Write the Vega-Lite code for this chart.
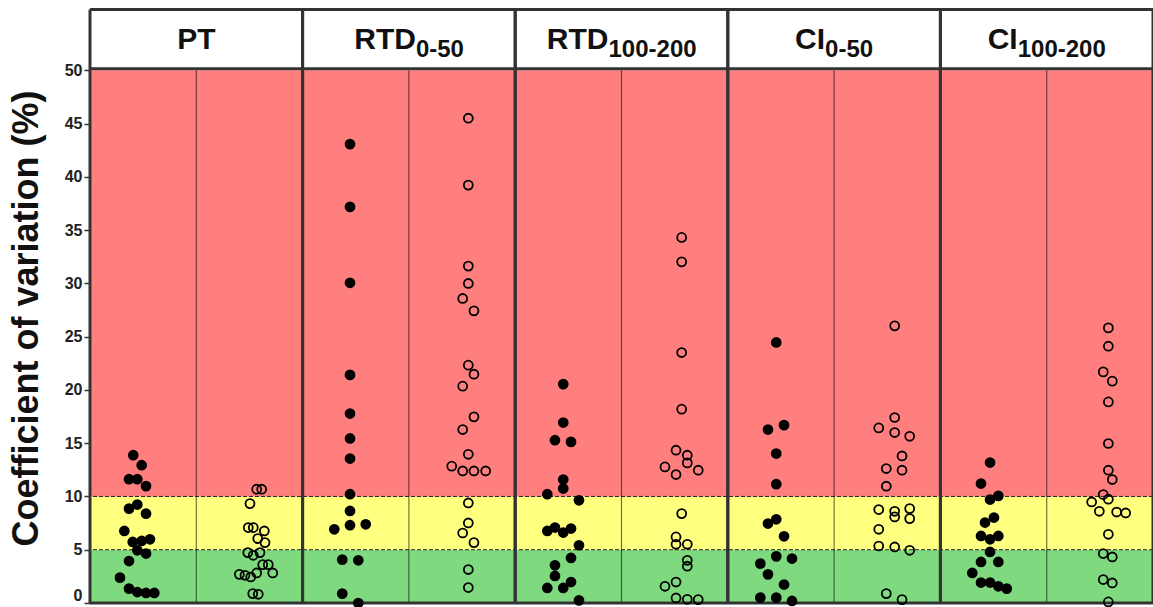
{
  "$schema": "https://vega.github.io/schema/vega-lite/v6.json",
  "usermeta": {"embedOptions": {"actions": false}},
  "width": 1063,
  "height": 594,
  "autosize": {"type": "none"},
  "padding": {"left": 90, "top": 9, "right": 0, "bottom": 4},
  "background": "white",
  "config": {"view": {"stroke": null}, "font": "Liberation Sans"},
  "datasets": {
    "bands": [
      {"zone": "low", "lo": 0, "hi": 5},
      {"zone": "mid", "lo": 5, "hi": 10},
      {"zone": "high", "lo": 10, "hi": 50}
    ],
    "thresholds": [{"v": 5}, {"v": 10}],
    "borders": [{"v": 0}, {"v": 50.15}, {"v": 55.7}],
    "panels": [
      {"p": "PT", "main": "PT", "sub": ""},
      {"p": "RTD0-50", "main": "RTD", "sub": "0-50"},
      {"p": "RTD100-200", "main": "RTD", "sub": "100-200"},
      {"p": "CI0-50", "main": "CI", "sub": "0-50"},
      {"p": "CI100-200", "main": "CI", "sub": "100-200"}
    ],
    "pts": [
      {"g": "PT-1", "t": "filled", "cv": 13.87, "j": -0.093},
      {"g": "PT-1", "t": "filled", "cv": 12.93, "j": -0.014},
      {"g": "PT-1", "t": "filled", "cv": 11.62, "j": -0.133},
      {"g": "PT-1", "t": "filled", "cv": 11.62, "j": -0.055},
      {"g": "PT-1", "t": "filled", "cv": 10.97, "j": 0.027},
      {"g": "PT-1", "t": "filled", "cv": 9.24, "j": -0.055},
      {"g": "PT-1", "t": "filled", "cv": 8.86, "j": -0.133},
      {"g": "PT-1", "t": "filled", "cv": 8.39, "j": 0.027},
      {"g": "PT-1", "t": "filled", "cv": 6.76, "j": -0.177},
      {"g": "PT-1", "t": "filled", "cv": 5.73, "j": -0.098},
      {"g": "PT-1", "t": "filled", "cv": 5.82, "j": -0.014},
      {"g": "PT-1", "t": "filled", "cv": 5.98, "j": 0.064},
      {"g": "PT-1", "t": "filled", "cv": 4.95, "j": -0.055},
      {"g": "PT-1", "t": "filled", "cv": 4.64, "j": 0.027},
      {"g": "PT-1", "t": "filled", "cv": 3.94, "j": -0.133},
      {"g": "PT-1", "t": "filled", "cv": 2.38, "j": -0.218},
      {"g": "PT-1", "t": "filled", "cv": 1.35, "j": -0.133},
      {"g": "PT-1", "t": "filled", "cv": 1.03, "j": -0.055},
      {"g": "PT-1", "t": "filled", "cv": 0.94, "j": 0.027},
      {"g": "PT-1", "t": "filled", "cv": 0.94, "j": 0.105},
      {"g": "PT-2", "t": "open", "cv": 10.68, "j": 0.068},
      {"g": "PT-2", "t": "open", "cv": 10.68, "j": 0.115},
      {"g": "PT-2", "t": "open", "cv": 9.33, "j": 0.005},
      {"g": "PT-2", "t": "open", "cv": 7.08, "j": -0.011},
      {"g": "PT-2", "t": "open", "cv": 7.08, "j": 0.036},
      {"g": "PT-2", "t": "open", "cv": 6.76, "j": 0.14},
      {"g": "PT-2", "t": "open", "cv": 6.05, "j": 0.078},
      {"g": "PT-2", "t": "open", "cv": 5.67, "j": 0.146},
      {"g": "PT-2", "t": "open", "cv": 4.73, "j": -0.016},
      {"g": "PT-2", "t": "open", "cv": 4.48, "j": 0.036},
      {"g": "PT-2", "t": "open", "cv": 4.73, "j": 0.099},
      {"g": "PT-2", "t": "open", "cv": 3.6, "j": 0.125},
      {"g": "PT-2", "t": "open", "cv": 3.6, "j": 0.177},
      {"g": "PT-2", "t": "open", "cv": 2.82, "j": 0.219},
      {"g": "PT-2", "t": "open", "cv": 2.69, "j": -0.095},
      {"g": "PT-2", "t": "open", "cv": 2.6, "j": -0.042},
      {"g": "PT-2", "t": "open", "cv": 2.44, "j": 0.012},
      {"g": "PT-2", "t": "open", "cv": 2.82, "j": 0.068},
      {"g": "PT-2", "t": "open", "cv": 0.88, "j": 0.031},
      {"g": "PT-2", "t": "open", "cv": 0.82, "j": 0.083},
      {"g": "RTD0-50-1", "t": "filled", "cv": 43.07, "j": -0.054},
      {"g": "RTD0-50-1", "t": "filled", "cv": 37.18, "j": -0.054},
      {"g": "RTD0-50-1", "t": "filled", "cv": 30.05, "j": -0.054},
      {"g": "RTD0-50-1", "t": "filled", "cv": 21.41, "j": -0.054},
      {"g": "RTD0-50-1", "t": "filled", "cv": 17.78, "j": -0.054},
      {"g": "RTD0-50-1", "t": "filled", "cv": 15.44, "j": -0.054},
      {"g": "RTD0-50-1", "t": "filled", "cv": 13.56, "j": -0.054},
      {"g": "RTD0-50-1", "t": "filled", "cv": 10.21, "j": -0.054},
      {"g": "RTD0-50-1", "t": "filled", "cv": 8.64, "j": -0.054},
      {"g": "RTD0-50-1", "t": "filled", "cv": 6.92, "j": -0.202},
      {"g": "RTD0-50-1", "t": "filled", "cv": 7.3, "j": -0.054},
      {"g": "RTD0-50-1", "t": "filled", "cv": 7.39, "j": 0.094},
      {"g": "RTD0-50-1", "t": "filled", "cv": 4.07, "j": -0.127},
      {"g": "RTD0-50-1", "t": "filled", "cv": 4.01, "j": 0.024},
      {"g": "RTD0-50-1", "t": "filled", "cv": 0.88, "j": -0.127},
      {"g": "RTD0-50-1", "t": "filled", "cv": 0.0, "j": 0.024},
      {"g": "RTD0-50-2", "t": "open", "cv": 45.5, "j": 0.059},
      {"g": "RTD0-50-2", "t": "open", "cv": 39.22, "j": 0.059},
      {"g": "RTD0-50-2", "t": "open", "cv": 31.62, "j": 0.059},
      {"g": "RTD0-50-2", "t": "open", "cv": 29.99, "j": 0.059},
      {"g": "RTD0-50-2", "t": "open", "cv": 28.58, "j": 0.006},
      {"g": "RTD0-50-2", "t": "open", "cv": 27.42, "j": 0.112},
      {"g": "RTD0-50-2", "t": "open", "cv": 22.32, "j": 0.059},
      {"g": "RTD0-50-2", "t": "open", "cv": 21.47, "j": 0.112},
      {"g": "RTD0-50-2", "t": "open", "cv": 20.35, "j": 0.006},
      {"g": "RTD0-50-2", "t": "open", "cv": 17.47, "j": 0.112},
      {"g": "RTD0-50-2", "t": "open", "cv": 16.28, "j": 0.006},
      {"g": "RTD0-50-2", "t": "open", "cv": 13.96, "j": 0.059},
      {"g": "RTD0-50-2", "t": "open", "cv": 12.84, "j": -0.097},
      {"g": "RTD0-50-2", "t": "open", "cv": 12.39, "j": 0.006},
      {"g": "RTD0-50-2", "t": "open", "cv": 12.39, "j": 0.112},
      {"g": "RTD0-50-2", "t": "open", "cv": 12.39, "j": 0.222},
      {"g": "RTD0-50-2", "t": "open", "cv": 9.39, "j": 0.059},
      {"g": "RTD0-50-2", "t": "open", "cv": 7.51, "j": 0.059},
      {"g": "RTD0-50-2", "t": "open", "cv": 6.57, "j": 0.006},
      {"g": "RTD0-50-2", "t": "open", "cv": 5.67, "j": 0.112},
      {"g": "RTD0-50-2", "t": "open", "cv": 3.14, "j": 0.059},
      {"g": "RTD0-50-2", "t": "open", "cv": 1.45, "j": 0.059},
      {"g": "RTD100-200-1", "t": "filled", "cv": 20.54, "j": -0.048},
      {"g": "RTD100-200-1", "t": "filled", "cv": 16.94, "j": -0.048},
      {"g": "RTD100-200-1", "t": "filled", "cv": 15.28, "j": -0.126},
      {"g": "RTD100-200-1", "t": "filled", "cv": 15.12, "j": 0.025},
      {"g": "RTD100-200-1", "t": "filled", "cv": 11.59, "j": -0.048},
      {"g": "RTD100-200-1", "t": "filled", "cv": 10.74, "j": -0.048},
      {"g": "RTD100-200-1", "t": "filled", "cv": 10.21, "j": -0.198},
      {"g": "RTD100-200-1", "t": "filled", "cv": 9.64, "j": 0.1},
      {"g": "RTD100-200-1", "t": "filled", "cv": 6.76, "j": -0.198},
      {"g": "RTD100-200-1", "t": "filled", "cv": 7.08, "j": -0.126},
      {"g": "RTD100-200-1", "t": "filled", "cv": 6.61, "j": -0.048},
      {"g": "RTD100-200-1", "t": "filled", "cv": 6.99, "j": 0.025},
      {"g": "RTD100-200-1", "t": "filled", "cv": 5.42, "j": 0.1},
      {"g": "RTD100-200-1", "t": "filled", "cv": 4.23, "j": 0.025},
      {"g": "RTD100-200-1", "t": "filled", "cv": 3.54, "j": -0.126},
      {"g": "RTD100-200-1", "t": "filled", "cv": 2.54, "j": -0.126},
      {"g": "RTD100-200-1", "t": "filled", "cv": 1.41, "j": -0.198},
      {"g": "RTD100-200-1", "t": "filled", "cv": 1.41, "j": -0.048},
      {"g": "RTD100-200-1", "t": "filled", "cv": 1.97, "j": 0.025},
      {"g": "RTD100-200-1", "t": "filled", "cv": 0.25, "j": 0.1},
      {"g": "RTD100-200-2", "t": "open", "cv": 34.31, "j": 0.066},
      {"g": "RTD100-200-2", "t": "open", "cv": 32.02, "j": 0.066},
      {"g": "RTD100-200-2", "t": "open", "cv": 23.51, "j": 0.066},
      {"g": "RTD100-200-2", "t": "open", "cv": 18.19, "j": 0.066},
      {"g": "RTD100-200-2", "t": "open", "cv": 14.34, "j": 0.013},
      {"g": "RTD100-200-2", "t": "open", "cv": 13.87, "j": 0.119},
      {"g": "RTD100-200-2", "t": "open", "cv": 13.15, "j": 0.119},
      {"g": "RTD100-200-2", "t": "open", "cv": 12.77, "j": -0.091},
      {"g": "RTD100-200-2", "t": "open", "cv": 12.46, "j": 0.222},
      {"g": "RTD100-200-2", "t": "open", "cv": 12.06, "j": 0.013},
      {"g": "RTD100-200-2", "t": "open", "cv": 8.39, "j": 0.066},
      {"g": "RTD100-200-2", "t": "open", "cv": 6.2, "j": 0.013},
      {"g": "RTD100-200-2", "t": "open", "cv": 5.51, "j": 0.013},
      {"g": "RTD100-200-2", "t": "open", "cv": 5.51, "j": 0.119},
      {"g": "RTD100-200-2", "t": "open", "cv": 4.01, "j": 0.119},
      {"g": "RTD100-200-2", "t": "open", "cv": 3.45, "j": 0.119},
      {"g": "RTD100-200-2", "t": "open", "cv": 1.57, "j": -0.091},
      {"g": "RTD100-200-2", "t": "open", "cv": 1.97, "j": 0.013},
      {"g": "RTD100-200-2", "t": "open", "cv": 0.47, "j": 0.013},
      {"g": "RTD100-200-2", "t": "open", "cv": 0.35, "j": 0.119},
      {"g": "RTD100-200-2", "t": "open", "cv": 0.32, "j": 0.222},
      {"g": "CI0-50-1", "t": "filled", "cv": 24.45, "j": -0.044},
      {"g": "CI0-50-1", "t": "filled", "cv": 16.28, "j": -0.122},
      {"g": "CI0-50-1", "t": "filled", "cv": 16.69, "j": 0.029},
      {"g": "CI0-50-1", "t": "filled", "cv": 14.03, "j": -0.044},
      {"g": "CI0-50-1", "t": "filled", "cv": 11.15, "j": -0.044},
      {"g": "CI0-50-1", "t": "filled", "cv": 7.46, "j": -0.122},
      {"g": "CI0-50-1", "t": "filled", "cv": 7.86, "j": -0.044},
      {"g": "CI0-50-1", "t": "filled", "cv": 6.26, "j": 0.029},
      {"g": "CI0-50-1", "t": "filled", "cv": 3.7, "j": -0.194},
      {"g": "CI0-50-1", "t": "filled", "cv": 4.38, "j": -0.044},
      {"g": "CI0-50-1", "t": "filled", "cv": 4.17, "j": 0.104},
      {"g": "CI0-50-1", "t": "filled", "cv": 2.69, "j": -0.122},
      {"g": "CI0-50-1", "t": "filled", "cv": 1.73, "j": 0.029},
      {"g": "CI0-50-1", "t": "filled", "cv": 0.5, "j": -0.194},
      {"g": "CI0-50-1", "t": "filled", "cv": 0.5, "j": -0.044},
      {"g": "CI0-50-1", "t": "filled", "cv": 0.19, "j": 0.104},
      {"g": "CI0-50-2", "t": "open", "cv": 26.01, "j": 0.07},
      {"g": "CI0-50-2", "t": "open", "cv": 17.41, "j": 0.07},
      {"g": "CI0-50-2", "t": "open", "cv": 16.43, "j": -0.08},
      {"g": "CI0-50-2", "t": "open", "cv": 16.0, "j": 0.07},
      {"g": "CI0-50-2", "t": "open", "cv": 15.65, "j": 0.211},
      {"g": "CI0-50-2", "t": "open", "cv": 13.8, "j": 0.139},
      {"g": "CI0-50-2", "t": "open", "cv": 12.62, "j": -0.009},
      {"g": "CI0-50-2", "t": "open", "cv": 12.46, "j": 0.139},
      {"g": "CI0-50-2", "t": "open", "cv": 10.96, "j": -0.009},
      {"g": "CI0-50-2", "t": "open", "cv": 8.77, "j": -0.08},
      {"g": "CI0-50-2", "t": "open", "cv": 8.61, "j": 0.07},
      {"g": "CI0-50-2", "t": "open", "cv": 8.86, "j": 0.211},
      {"g": "CI0-50-2", "t": "open", "cv": 8.08, "j": 0.07},
      {"g": "CI0-50-2", "t": "open", "cv": 7.92, "j": 0.211},
      {"g": "CI0-50-2", "t": "open", "cv": 6.92, "j": -0.08},
      {"g": "CI0-50-2", "t": "open", "cv": 5.35, "j": -0.08},
      {"g": "CI0-50-2", "t": "open", "cv": 5.26, "j": 0.07},
      {"g": "CI0-50-2", "t": "open", "cv": 4.95, "j": 0.211},
      {"g": "CI0-50-2", "t": "open", "cv": 0.88, "j": -0.009},
      {"g": "CI0-50-2", "t": "open", "cv": 0.32, "j": 0.139},
      {"g": "CI100-200-1", "t": "filled", "cv": 13.18, "j": -0.033},
      {"g": "CI100-200-1", "t": "filled", "cv": 11.21, "j": -0.118},
      {"g": "CI100-200-1", "t": "filled", "cv": 9.71, "j": -0.033},
      {"g": "CI100-200-1", "t": "filled", "cv": 10.05, "j": 0.045},
      {"g": "CI100-200-1", "t": "filled", "cv": 7.55, "j": -0.08},
      {"g": "CI100-200-1", "t": "filled", "cv": 8.02, "j": 0.004},
      {"g": "CI100-200-1", "t": "filled", "cv": 6.29, "j": -0.118},
      {"g": "CI100-200-1", "t": "filled", "cv": 5.98, "j": -0.033},
      {"g": "CI100-200-1", "t": "filled", "cv": 6.29, "j": 0.045},
      {"g": "CI100-200-1", "t": "filled", "cv": 4.79, "j": -0.033},
      {"g": "CI100-200-1", "t": "filled", "cv": 3.85, "j": -0.118},
      {"g": "CI100-200-1", "t": "filled", "cv": 3.85, "j": 0.045},
      {"g": "CI100-200-1", "t": "filled", "cv": 2.82, "j": -0.2},
      {"g": "CI100-200-1", "t": "filled", "cv": 1.92, "j": -0.118},
      {"g": "CI100-200-1", "t": "filled", "cv": 1.92, "j": -0.033},
      {"g": "CI100-200-1", "t": "filled", "cv": 1.57, "j": 0.045},
      {"g": "CI100-200-1", "t": "filled", "cv": 1.35, "j": 0.124},
      {"g": "CI100-200-2", "t": "open", "cv": 25.82, "j": 0.08},
      {"g": "CI100-200-2", "t": "open", "cv": 24.1, "j": 0.08},
      {"g": "CI100-200-2", "t": "open", "cv": 21.69, "j": 0.032},
      {"g": "CI100-200-2", "t": "open", "cv": 20.82, "j": 0.117},
      {"g": "CI100-200-2", "t": "open", "cv": 18.87, "j": 0.08},
      {"g": "CI100-200-2", "t": "open", "cv": 14.97, "j": 0.08},
      {"g": "CI100-200-2", "t": "open", "cv": 12.46, "j": 0.08},
      {"g": "CI100-200-2", "t": "open", "cv": 11.59, "j": 0.117},
      {"g": "CI100-200-2", "t": "open", "cv": 10.18, "j": 0.032},
      {"g": "CI100-200-2", "t": "open", "cv": 9.74, "j": 0.08},
      {"g": "CI100-200-2", "t": "open", "cv": 9.48, "j": -0.077},
      {"g": "CI100-200-2", "t": "open", "cv": 8.61, "j": -0.005},
      {"g": "CI100-200-2", "t": "open", "cv": 8.54, "j": 0.158},
      {"g": "CI100-200-2", "t": "open", "cv": 8.45, "j": 0.243},
      {"g": "CI100-200-2", "t": "open", "cv": 6.45, "j": 0.08},
      {"g": "CI100-200-2", "t": "open", "cv": 4.64, "j": 0.032},
      {"g": "CI100-200-2", "t": "open", "cv": 4.32, "j": 0.117},
      {"g": "CI100-200-2", "t": "open", "cv": 2.2, "j": 0.032},
      {"g": "CI100-200-2", "t": "open", "cv": 1.88, "j": 0.117},
      {"g": "CI100-200-2", "t": "open", "cv": 0.1, "j": 0.08}
    ]
  },
  "layer": [
    {
      "data": {"name": "bands"},
      "mark": {"type": "rect"},
      "encoding": {
        "y": {
          "field": "lo", "type": "quantitative",
          "scale": {"domain": [0, 55.75], "nice": false, "zero": false},
          "axis": {
            "values": [0, 5, 10, 15, 20, 25, 30, 35, 40, 45, 50],
            "title": "Coefficient of variation (%)",
            "grid": false, "domain": false,
            "tickSize": 6, "tickWidth": 1.5, "tickColor": "#333333",
            "labelFont": "Liberation Sans", "labelFontSize": 16, "labelFontWeight": "bold",
            "labelColor": "#222222", "labelPadding": 2, "labelFlush": true,
            "titleFont": "Liberation Sans", "titleFontSize": 36, "titleFontWeight": "bold",
            "titleColor": "#111111", "titleAngle": -90, "titleX": -64, "titleY": 309,
            "titleAlign": "center", "titleBaseline": "middle"
          }
        },
        "y2": {"field": "hi"},
        "fill": {
          "field": "zone", "type": "nominal",
          "scale": {"domain": ["low", "mid", "high"], "range": ["#7FDA7F", "#FFFF80", "#FF7F7F"]},
          "legend": null
        }
      }
    },
    {
      "data": {"name": "thresholds"},
      "mark": {"type": "rule", "color": "#222222", "strokeWidth": 1, "strokeDash": [4, 2]},
      "encoding": {
        "y": {"field": "v", "type": "quantitative", "scale": {"domain": [0, 55.75], "nice": false, "zero": false}}
      }
    },
    {
      "data": {"name": "panels"},
      "mark": {"type": "rule", "color": "#000000", "opacity": 0.55, "strokeWidth": 1.2},
      "encoding": {
        "x": {"field": "p", "type": "nominal", "scale": {"type": "band", "domain": ["PT", "RTD0-50", "RTD100-200", "CI0-50", "CI100-200"], "paddingInner": 0, "paddingOuter": 0}, "axis": null},
        "y": {"datum": 0, "type": "quantitative", "scale": {"domain": [0, 55.75], "nice": false, "zero": false}},
        "y2": {"datum": 50}
      }
    },
    {
      "data": {"name": "borders"},
      "mark": {"type": "rule", "color": "#333333", "strokeWidth": 3},
      "encoding": {
        "y": {"field": "v", "type": "quantitative", "scale": {"domain": [0, 55.75], "nice": false, "zero": false}}
      }
    },
    {
      "data": {"name": "panels"},
      "mark": {"type": "rule", "color": "#333333", "strokeWidth": 3},
      "encoding": {
        "x": {"field": "p", "type": "nominal", "bandPosition": 0, "scale": {"type": "band", "domain": ["PT", "RTD0-50", "RTD100-200", "CI0-50", "CI100-200"], "paddingInner": 0, "paddingOuter": 0}, "axis": null},
        "y": {"datum": 0, "type": "quantitative", "scale": {"domain": [0, 55.75], "nice": false, "zero": false}},
        "y2": {"datum": 55.7}
      }
    },
    {
      "data": {"name": "panels"},
      "mark": {"type": "rule", "color": "#333333", "strokeWidth": 3},
      "encoding": {
        "x": {"field": "p", "type": "nominal", "bandPosition": 1, "scale": {"type": "band", "domain": ["PT", "RTD0-50", "RTD100-200", "CI0-50", "CI100-200"], "paddingInner": 0, "paddingOuter": 0}, "axis": null},
        "y": {"datum": 0, "type": "quantitative", "scale": {"domain": [0, 55.75], "nice": false, "zero": false}},
        "y2": {"datum": 55.7}
      }
    },
    {
      "data": {"name": "panels"},
      "transform": [{"filter": "datum.p == 'PT'"}],
      "mark": {"type": "text", "font": "Liberation Sans", "fontSize": 30, "fontWeight": "bold", "color": "#111111", "align": "center", "baseline": "alphabetic"},
      "encoding": {
        "x": {"field": "p", "type": "nominal", "scale": {"type": "band", "domain": ["PT", "RTD0-50", "RTD100-200", "CI0-50", "CI100-200"], "paddingInner": 0, "paddingOuter": 0}, "axis": null},
        "y": {"datum": 51.97, "type": "quantitative", "scale": {"domain": [0, 55.75], "nice": false, "zero": false}},
        "text": {"field": "main", "type": "nominal"}
      }
    },
    {
      "data": {"name": "panels"},
      "transform": [{"filter": "datum.p == 'RTD0-50'"}],
      "mark": {"type": "text", "font": "Liberation Sans", "fontSize": 30, "fontWeight": "bold", "color": "#111111", "align": "right", "baseline": "alphabetic", "dx": 7},
      "encoding": {
        "x": {"field": "p", "type": "nominal", "scale": {"type": "band", "domain": ["PT", "RTD0-50", "RTD100-200", "CI0-50", "CI100-200"], "paddingInner": 0, "paddingOuter": 0}, "axis": null},
        "y": {"datum": 51.97, "type": "quantitative", "scale": {"domain": [0, 55.75], "nice": false, "zero": false}},
        "text": {"field": "main", "type": "nominal"}
      }
    },
    {
      "data": {"name": "panels"},
      "transform": [{"filter": "datum.p == 'RTD0-50'"}],
      "mark": {"type": "text", "font": "Liberation Sans", "fontSize": 24, "fontWeight": "bold", "color": "#111111", "align": "left", "baseline": "alphabetic", "dx": 7},
      "encoding": {
        "x": {"field": "p", "type": "nominal", "scale": {"type": "band", "domain": ["PT", "RTD0-50", "RTD100-200", "CI0-50", "CI100-200"], "paddingInner": 0, "paddingOuter": 0}, "axis": null},
        "y": {"datum": 51.29, "type": "quantitative", "scale": {"domain": [0, 55.75], "nice": false, "zero": false}},
        "text": {"field": "sub", "type": "nominal"}
      }
    },
    {
      "data": {"name": "panels"},
      "transform": [{"filter": "datum.p == 'RTD100-200'"}],
      "mark": {"type": "text", "font": "Liberation Sans", "fontSize": 30, "fontWeight": "bold", "color": "#111111", "align": "right", "baseline": "alphabetic", "dx": -13},
      "encoding": {
        "x": {"field": "p", "type": "nominal", "scale": {"type": "band", "domain": ["PT", "RTD0-50", "RTD100-200", "CI0-50", "CI100-200"], "paddingInner": 0, "paddingOuter": 0}, "axis": null},
        "y": {"datum": 51.97, "type": "quantitative", "scale": {"domain": [0, 55.75], "nice": false, "zero": false}},
        "text": {"field": "main", "type": "nominal"}
      }
    },
    {
      "data": {"name": "panels"},
      "transform": [{"filter": "datum.p == 'RTD100-200'"}],
      "mark": {"type": "text", "font": "Liberation Sans", "fontSize": 24, "fontWeight": "bold", "color": "#111111", "align": "left", "baseline": "alphabetic", "dx": -13},
      "encoding": {
        "x": {"field": "p", "type": "nominal", "scale": {"type": "band", "domain": ["PT", "RTD0-50", "RTD100-200", "CI0-50", "CI100-200"], "paddingInner": 0, "paddingOuter": 0}, "axis": null},
        "y": {"datum": 51.29, "type": "quantitative", "scale": {"domain": [0, 55.75], "nice": false, "zero": false}},
        "text": {"field": "sub", "type": "nominal"}
      }
    },
    {
      "data": {"name": "panels"},
      "transform": [{"filter": "datum.p == 'CI0-50'"}],
      "mark": {"type": "text", "font": "Liberation Sans", "fontSize": 30, "fontWeight": "bold", "color": "#111111", "align": "right", "baseline": "alphabetic", "dx": -9},
      "encoding": {
        "x": {"field": "p", "type": "nominal", "scale": {"type": "band", "domain": ["PT", "RTD0-50", "RTD100-200", "CI0-50", "CI100-200"], "paddingInner": 0, "paddingOuter": 0}, "axis": null},
        "y": {"datum": 51.97, "type": "quantitative", "scale": {"domain": [0, 55.75], "nice": false, "zero": false}},
        "text": {"field": "main", "type": "nominal"}
      }
    },
    {
      "data": {"name": "panels"},
      "transform": [{"filter": "datum.p == 'CI0-50'"}],
      "mark": {"type": "text", "font": "Liberation Sans", "fontSize": 24, "fontWeight": "bold", "color": "#111111", "align": "left", "baseline": "alphabetic", "dx": -9},
      "encoding": {
        "x": {"field": "p", "type": "nominal", "scale": {"type": "band", "domain": ["PT", "RTD0-50", "RTD100-200", "CI0-50", "CI100-200"], "paddingInner": 0, "paddingOuter": 0}, "axis": null},
        "y": {"datum": 51.29, "type": "quantitative", "scale": {"domain": [0, 55.75], "nice": false, "zero": false}},
        "text": {"field": "sub", "type": "nominal"}
      }
    },
    {
      "data": {"name": "panels"},
      "transform": [{"filter": "datum.p == 'CI100-200'"}],
      "mark": {"type": "text", "font": "Liberation Sans", "fontSize": 30, "fontWeight": "bold", "color": "#111111", "align": "right", "baseline": "alphabetic", "dx": -29},
      "encoding": {
        "x": {"field": "p", "type": "nominal", "scale": {"type": "band", "domain": ["PT", "RTD0-50", "RTD100-200", "CI0-50", "CI100-200"], "paddingInner": 0, "paddingOuter": 0}, "axis": null},
        "y": {"datum": 51.97, "type": "quantitative", "scale": {"domain": [0, 55.75], "nice": false, "zero": false}},
        "text": {"field": "main", "type": "nominal"}
      }
    },
    {
      "data": {"name": "panels"},
      "transform": [{"filter": "datum.p == 'CI100-200'"}],
      "mark": {"type": "text", "font": "Liberation Sans", "fontSize": 24, "fontWeight": "bold", "color": "#111111", "align": "left", "baseline": "alphabetic", "dx": -29},
      "encoding": {
        "x": {"field": "p", "type": "nominal", "scale": {"type": "band", "domain": ["PT", "RTD0-50", "RTD100-200", "CI0-50", "CI100-200"], "paddingInner": 0, "paddingOuter": 0}, "axis": null},
        "y": {"datum": 51.29, "type": "quantitative", "scale": {"domain": [0, 55.75], "nice": false, "zero": false}},
        "text": {"field": "sub", "type": "nominal"}
      }
    },
    {
      "data": {"name": "pts"},
      "mark": {"type": "circle", "size": 80, "stroke": "#000000", "strokeWidth": 1.8, "opacity": 1},
      "encoding": {
        "x": {"field": "g", "type": "nominal", "scale": {"type": "band", "domain": ["PT-1", "PT-2", "RTD0-50-1", "RTD0-50-2", "RTD100-200-1", "RTD100-200-2", "CI0-50-1", "CI0-50-2", "CI100-200-1", "CI100-200-2"], "paddingInner": 0, "paddingOuter": 0}, "axis": null},
        "xOffset": {"field": "j", "type": "quantitative", "scale": {"domain": [-0.5, 0.5], "nice": false, "zero": false}},
        "y": {"field": "cv", "type": "quantitative", "scale": {"domain": [0, 55.75], "nice": false, "zero": false}},
        "fill": {"field": "t", "type": "nominal", "scale": {"domain": ["filled", "open"], "range": ["#000000", "transparent"]}, "legend": null}
      }
    }
  ],
  "resolve": {"scale": {"x": "independent", "fill": "independent"}}
}
